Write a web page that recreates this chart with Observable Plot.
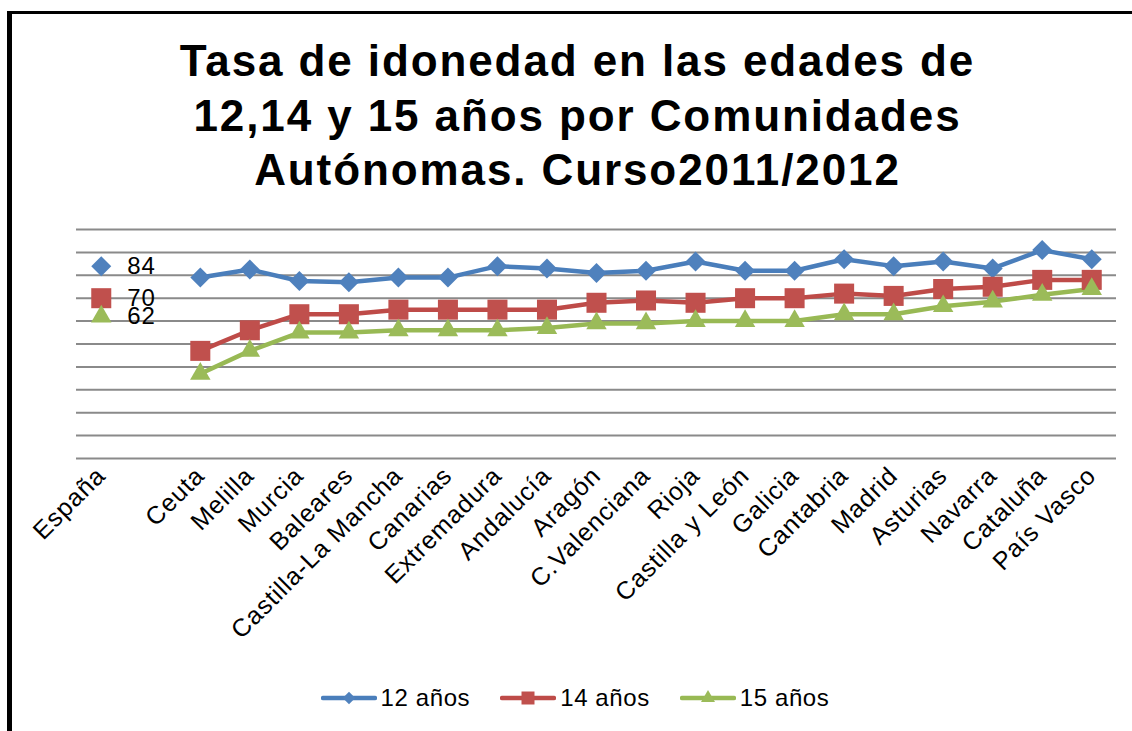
<!DOCTYPE html>
<html><head><meta charset="utf-8">
<script src="https://cdn.jsdelivr.net/npm/d3@7"></script>
<script src="https://cdn.jsdelivr.net/npm/@observablehq/plot@0.6"></script>
<style>
html,body{margin:0;padding:0;background:#fff;}
#wrap{position:relative;width:1132px;height:731px;overflow:hidden;background:#fff;font-family:"Liberation Sans",Arial,sans-serif;}
#frame{position:absolute;left:7px;top:11px;width:1200px;height:800px;border-top:3px solid #000;border-left:5px solid #000;}
#title{position:absolute;left:0;top:34px;width:1155px;text-align:center;font-weight:bold;font-size:44px;line-height:54.5px;letter-spacing:1.9px;color:#000;}
#chart{position:absolute;left:0;top:210px;}
#legend{position:absolute;top:684px;left:0;width:1150px;display:flex;justify-content:center;align-items:center;gap:30px;font-size:24px;letter-spacing:0.6px;color:#000;}
.item{display:flex;align-items:center;gap:4px;}
</style>
</head><body>
<div id="wrap">
  <div id="frame"></div>
  <div id="title">Tasa de idonedad en las edades de<br>12,14 y 15 años por Comunidades<br>Autónomas. Curso2011/2012</div>
  <div id="chart"></div>
  <div id="legend"></div>
</div>
<script>
const categories = ["España","","Ceuta","Melilla","Murcia","Baleares","Castilla-La Mancha","Canarias","Extremadura","Andalucía","Aragón","C.Valenciana","Rioja","Castilla y León","Galicia","Cantabria","Madrid","Asturias","Navarra","Cataluña","País Vasco"];
const tasa12 = [84,null,79,82.5,77.5,77,79,79,84,83,81,82,86,82,82,87,84,86,83,91,87];
const tasa14 = [70,null,47,56,63,63,65,65,65,65,68,69,68,70,70,72,71,74,75,78,78];
const tasa15 = [62,null,37,47,55,55,56,56,56,57,59,59,60,60,60,63,63,66.5,68.5,71.5,74];
const seriesNames = ["12 años","14 años","15 años"];
const gridValues = [0,10,20,30,40,50,60,70,80,90,100];
const labelledCategory = "España";

const seriesValues = [tasa12, tasa14, tasa15];
const lineColors = ["#4A7EBB","#BE4B48","#98B954"];
const markerFill = ["#4F81BD","#C0504D","#9BBB59"];
const symCfg = [{symbol:"diamond2", r:9},{symbol:"square", r:11.3},{symbol:"triangle", r:7.6}];
const legendSym = [{type:d3.symbolDiamond2, size:Math.PI*5.6*5.6},{type:d3.symbolSquare, size:13*13},{type:d3.symbolTriangle, size:Math.PI*5.2*5.2}];

const rows = seriesNames.flatMap((s,k)=>categories.map((c,i)=>({cat:c, series:s, v:seriesValues[k][i]})));
const lineRows = rows.filter(d=>d.cat!==labelledCategory && d.cat!=="");

const chart = Plot.plot({
  width:1132, height:450,
  marginLeft:76, marginRight:16, marginTop:19, marginBottom:202,
  style:{fontFamily:'"Liberation Sans", Arial, sans-serif', fontSize:"25px", color:"#000", background:"transparent", overflow:"visible", letterSpacing:"0.9px"},
  x:{type:"point", domain:categories, padding:0.5, round:false, label:null},
  y:{domain:[0,100], axis:null},
  color:{domain:seriesNames, range:lineColors},
  marks:[
    Plot.ruleY(gridValues,{stroke:"#8a8a8a", strokeWidth:2}),
    Plot.axisX({tickRotate:-45, tickSize:0, tickPadding:13, fontSize:25, fill:"#000", label:null}),
    Plot.line(lineRows, {x:"cat", y:"v", z:"series", stroke:"series", strokeWidth:4.5, strokeLinejoin:"round", strokeLinecap:"round"}),
    ...seriesNames.map((s,k)=>Plot.dot(rows.filter(d=>d.series===s && d.v!=null), {x:"cat", y:"v", fill:markerFill[k], symbol:symCfg[k].symbol, r:symCfg[k].r, stroke:"none"})),
    Plot.text(rows.filter(d=>d.cat===labelledCategory), {x:"cat", y:"v", text:d=>String(d.v), dx:26, textAnchor:"start", fontSize:24, fill:"#000"})
  ]
});
document.getElementById("chart").appendChild(chart);

const legend = d3.select("#legend");
seriesNames.forEach((s,k)=>{
  const it = legend.append("div").attr("class","item");
  const svg = it.append("svg").attr("width",56).attr("height",24);
  svg.append("line").attr("x1",2).attr("x2",54).attr("y1",12).attr("y2",12).attr("stroke",lineColors[k]).attr("stroke-width",4.5).attr("stroke-linecap","round");
  svg.append("path").attr("transform","translate(28,12)").attr("d",d3.symbol(legendSym[k].type, legendSym[k].size)()).attr("fill",markerFill[k]);
  it.append("span").text(s);
});
</script>
</body></html>
